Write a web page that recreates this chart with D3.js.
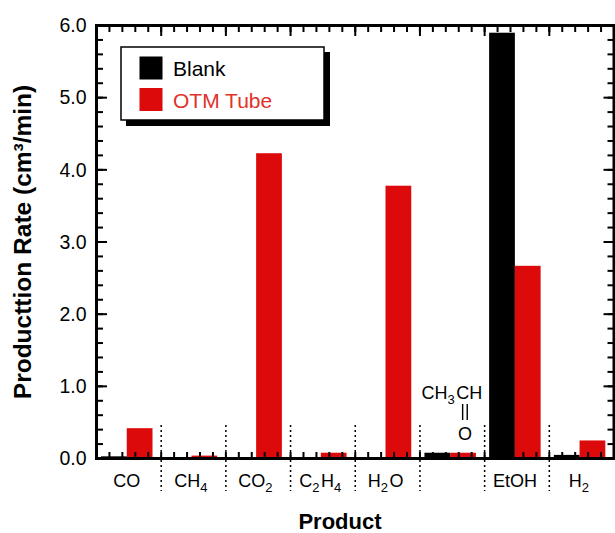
<!DOCTYPE html>
<html lang="en">
<head>
    <meta charset="UTF-8">
    <title>Production Rate by Product</title>
    <script src="https://d3js.org/d3.v7.min.js"></script>
    <style>
        body {
            margin: 0;
            background: #ffffff;
            overflow: hidden;
        }
        svg {
            display: block;
        }
        svg text {
            font-family: 'Liberation Sans', Arial, Helvetica, sans-serif;
        }
    </style>
</head>
<body>
    <svg id="chart" width="615" height="533"></svg>
    <script>
        // data
        const categories = ["CO", "CH4", "CO2", "C2H4", "H2O", "CH3CHO", "EtOH", "H2"];
        const tickLabels = ["CO", "CH4", "CO2", "C2H4", "H2O", "", "EtOH", "H2"];
        const blankRates = [0.03, 0.0, 0.0, 0.0, 0.0, 0.08, 5.90, 0.05];
        const otmRates = [0.42, 0.04, 4.23, 0.08, 3.78, 0.08, 2.67, 0.25];
        const seriesNames = ["Blank", "OTM Tube"];
        const yTicks = [0, 1, 2, 3, 4, 5, 6];

        const colors = { "Blank": "#000000", "OTM Tube": "#dc0a0a" };
        const textRed = "#e0322a";

        const svg = d3.select("#chart");
        const plotLeft = 96.5, plotRight = 614, plotTop = 25.5, plotBottom = 458.5;

        const x = d3.scaleBand().domain(categories).range([plotLeft, plotRight]).padding(0);
        const xs = d3.scaleBand().domain(seriesNames)
            .range([4.5, 4.5 + 51.5]);
        const xLin = d3.scaleLinear().domain([0, categories.length]).range([plotLeft, plotRight]);
        const y = d3.scaleLinear().domain([0, 6]).range([plotBottom, plotTop]);

        const rows = categories.map((c, i) => ({ cat: c, values: [
            { name: "Blank", v: blankRates[i] },
            { name: "OTM Tube", v: otmRates[i] }
        ]}));

        // bars
        const groups = svg.append("g").selectAll("g")
            .data(rows).join("g")
            .attr("transform", d => `translate(${x(d.cat)},0)`);
        groups.selectAll("rect")
            .data(d => d.values).join("rect")
            .attr("x", d => xs(d.name))
            .attr("width", xs.bandwidth())
            .attr("y", d => y(d.v))
            .attr("height", d => y(0) - y(d.v))
            .attr("fill", d => colors[d.name]);

        // frame
        svg.append("rect")
            .attr("x", plotLeft).attr("y", plotTop)
            .attr("width", plotRight - plotLeft).attr("height", plotBottom - plotTop)
            .attr("fill", "none").attr("stroke", "#000").attr("stroke-width", 3);

        // inward tick marks on all four sides
        const minorX = d3.range(0, categories.length * 5 + 1).map(i => i / 5);
        const majorX = d3.range(0, categories.length + 1);
        const minorY = d3.range(0, 31).map(i => i / 5);
        const tickG = svg.append("g").attr("stroke", "#000").attr("stroke-width", 2);

        function xTicks(values, yPos, len) {
            tickG.append("g").selectAll("line")
                .data(values).join("line")
                .attr("x1", d => xLin(d)).attr("x2", d => xLin(d))
                .attr("y1", yPos).attr("y2", yPos + len);
        }
        function yTicksAt(values, xPos, len) {
            tickG.append("g").selectAll("line")
                .data(values).join("line")
                .attr("y1", d => y(d)).attr("y2", d => y(d))
                .attr("x1", xPos).attr("x2", xPos + len);
        }
        xTicks(minorX, plotBottom, -6.5);
        xTicks(minorX, plotTop, 6.5);
        xTicks(majorX, plotTop, 10.5);
        yTicksAt(minorY, plotLeft, 6.5);
        yTicksAt(yTicks, plotLeft, 10.5);
        yTicksAt(minorY, plotRight, -6.5);
        yTicksAt(yTicks, plotRight, -10.5);

        // y tick labels
        const yAxis = svg.append("g").attr("transform", `translate(${plotLeft},0)`)
            .call(d3.axisLeft(y).tickValues(yTicks).tickSize(0).tickPadding(10).tickFormat(d3.format(".1f")));
        yAxis.select(".domain").remove();
        yAxis.selectAll(".tick line").remove();
        yAxis.selectAll(".tick text")
            .attr("font-size", 19.5)
            .attr("fill", "#000")
            .attr("font-family", "'Liberation Sans', Arial, sans-serif");

        // dotted separators between categories
        svg.append("g").selectAll("line")
            .data(categories.slice(1)).join("line")
            .attr("x1", d => x(d)).attr("x2", d => x(d))
            .attr("y1", 425).attr("y2", 491)
            .attr("stroke", "#000").attr("stroke-width", 1.5)
            .attr("stroke-dasharray", "2,3");

        // category labels with subscripts
        function formula(sel, label, size, subSize) {
            const parts = label.match(/[A-Za-z]+|\d+/g) || [];
            parts.forEach(p => {
                if (/\d/.test(p)) {
                    sel.append("tspan").attr("font-size", subSize).attr("dy", 5).text(p);
                    sel.append("tspan").attr("font-size", size).attr("dy", -5).text("\u200a");
                } else {
                    sel.append("tspan").attr("font-size", size).text(p);
                }
            });
        }

        svg.append("g").selectAll("text")
            .data(categories.filter((c, i) => tickLabels[i] !== "")).join("text")
            .attr("x", d => x(d) + x.bandwidth() / 2 - 2)
            .attr("y", 486.5)
            .attr("text-anchor", "middle")
            .attr("font-size", 18)
            .each(function (d) { formula(d3.select(this), tickLabels[categories.indexOf(d)], 18, 13); });

        // acetaldehyde structure drawn above its bars
        const acx = x("CH3CHO");
        const ach = svg.append("text")
            .attr("x", acx + 1.5).attr("y", 399)
            .attr("font-size", 18);
        formula(ach, "CH3CH", 18, 13);
        [-2.3, 2.3].forEach(dx => {
            svg.append("line")
                .attr("x1", acx + 45 + dx).attr("x2", acx + 45 + dx)
                .attr("y1", 404).attr("y2", 420)
                .attr("stroke", "#000").attr("stroke-width", 1.4);
        });
        svg.append("text")
            .attr("x", acx + 45).attr("y", 440)
            .attr("text-anchor", "middle")
            .attr("font-size", 18)
            .text("O");

        // axis titles
        svg.append("text")
            .attr("transform", "translate(31,242) rotate(-90)")
            .attr("text-anchor", "middle")
            .attr("font-size", 24.5)
            .attr("font-weight", "bold")
            .text("Producttion Rate (cm\u00b3/min)");
        svg.append("text")
            .attr("x", 340).attr("y", 529)
            .attr("text-anchor", "middle")
            .attr("font-size", 22)
            .attr("font-weight", "bold")
            .text("Product");

        // legend
        const legend = svg.append("g");
        legend.append("rect")
            .attr("x", 126).attr("y", 52).attr("width", 204).attr("height", 74)
            .attr("fill", "#000");
        legend.append("rect")
            .attr("x", 121).attr("y", 47).attr("width", 203).attr("height", 73)
            .attr("fill", "#fff").attr("stroke", "#000").attr("stroke-width", 1.5);
        seriesNames.forEach((name, i) => {
            legend.append("rect")
                .attr("x", 139.5).attr("y", 56.5 + i * 31.5)
                .attr("width", 23).attr("height", 23)
                .attr("fill", colors[name]);
            legend.append("text")
                .attr("x", 173).attr("y", 76 + i * 31.5)
                .attr("font-size", 21)
                .attr("fill", i === 0 ? "#000" : textRed)
                .text(name);
        });
    </script>
</body>
</html>
